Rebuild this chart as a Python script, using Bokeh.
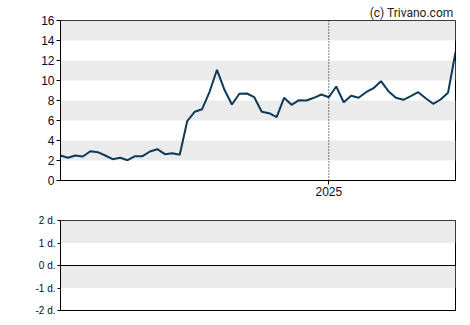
import datetime as dt
from bokeh.plotting import figure
from bokeh.models import Range1d, BoxAnnotation, Span, FixedTicker, DatetimeTickFormatter
from bokeh.layouts import column
from bokeh.embed import file_html
from bokeh.resources import INLINE

values = [2.5, 2.27, 2.5, 2.4, 2.93, 2.83, 2.5, 2.13, 2.27, 2.03, 2.43, 2.43, 2.9, 3.13,
          2.63, 2.73, 2.57, 5.93, 6.87, 7.13, 8.87, 11.07, 9.07, 7.6,
          8.67, 8.7, 8.33, 6.87, 6.73, 6.33, 8.27, 7.57, 8.03, 8.0, 8.27, 8.6, 8.33,
          9.4, 7.83, 8.47, 8.27, 8.83, 9.23, 9.93, 8.93, 8.27, 8.07, 8.43, 8.83,
          8.23, 7.67, 8.1, 8.77, 12.83]
start_date = dt.datetime(2024, 4, 24)
dates = [start_date + dt.timedelta(days=7 * i) for i in range(len(values))]
year_tick = dt.datetime(2025, 1, 1)
y_ticks = [0, 2, 4, 6, 8, 10, 12, 14, 16]
top_bands = [(2, 4), (6, 8), (10, 12), (14, 16)]
low_ticks = [-2, -1, 0, 1, 2]
low_labels = {-2: "-2 d.", -1: "-1 d.", 0: "0 d.", 1: "1 d.", 2: "2 d."}
low_bands = [(1, 2), (-1, 0)]

LINE = "#0e3a59"
BAND = "#ebebeb"
TXT = "#0a0a28"
FONT = "Liberation Sans"

xr = Range1d(dates[0], dates[-1])

p = figure(width=470, height=200, x_axis_type="datetime", x_range=xr,
           y_range=Range1d(0, 16), output_backend="svg", toolbar_location=None,
           min_border_left=60, min_border_right=15, min_border_top=20, min_border_bottom=20,
           title="(c) Trivano.com")
p.title.align = "right"
p.title.text_font = "Roboto"
p.title.text_font_size = "12px"
p.title.text_font_style = "normal"
p.title.text_color = "#222222"
p.title.standoff = 2
p.title.offset = 2
p.xgrid.visible = False
p.ygrid.visible = False
p.outline_line_color = "black"
p.outline_line_alpha = 1
p.outline_line_width = 1
for b, t in top_bands:
    p.add_layout(BoxAnnotation(bottom=b, top=t, fill_color=BAND, fill_alpha=1,
                               line_color=None, level="underlay"))
p.add_layout(Span(location=year_tick, dimension="height", line_color="black",
                  line_dash="1 2", line_width=1))
p.line(dates, values, line_color=LINE, line_width=2)

p.yaxis.ticker = FixedTicker(ticks=y_ticks)
p.yaxis.minor_tick_line_color = None
p.yaxis.major_tick_in = 0
p.yaxis.major_tick_out = 4
p.yaxis.major_label_standoff = 2
p.yaxis.major_label_text_font = FONT
p.yaxis.major_label_text_font_size = "12px"
p.yaxis.major_label_text_color = TXT
p.yaxis.axis_line_color = "black"

p.xaxis.ticker = FixedTicker(ticks=[year_tick.timestamp() * 1000])
p.xaxis.formatter = DatetimeTickFormatter(days="%Y", months="%Y", years="%Y")
p.xaxis.minor_tick_line_color = None
p.xaxis.major_tick_in = 0
p.xaxis.major_tick_out = 4
p.xaxis.major_label_standoff = 2
p.xaxis.major_label_text_font = FONT
p.xaxis.major_label_text_font_size = "12px"
p.xaxis.major_label_text_color = TXT
p.xaxis.axis_line_color = "black"

q = figure(width=470, height=125, x_axis_type="datetime", x_range=xr,
           y_range=Range1d(-2, 2), output_backend="svg", toolbar_location=None,
           min_border_left=60, min_border_right=15, min_border_top=20, min_border_bottom=15)
q.xgrid.visible = False
q.ygrid.visible = False
q.outline_line_color = "black"
q.outline_line_alpha = 1
for b, t in low_bands:
    q.add_layout(BoxAnnotation(bottom=b, top=t, fill_color=BAND, fill_alpha=1,
                               line_color=None, level="underlay"))
q.add_layout(Span(location=0, dimension="width", line_color="black", line_width=1))
q.yaxis.ticker = FixedTicker(ticks=low_ticks)
q.yaxis.major_label_overrides = low_labels
q.yaxis.minor_tick_line_color = None
q.yaxis.major_tick_in = 0
q.yaxis.major_tick_out = 3
q.yaxis.major_label_standoff = 2
q.yaxis.major_label_text_font = FONT
q.yaxis.major_label_text_font_size = "10px"
q.yaxis.major_label_text_color = TXT
q.yaxis.axis_line_color = "black"
q.xaxis.ticker = FixedTicker(ticks=[])
q.xaxis.major_label_text_font_size = "0px"
q.xaxis.major_tick_line_color = None
q.xaxis.minor_tick_line_color = None
q.xaxis.axis_line_color = "black"

layout = column(p, q, spacing=0)
open("out.html", "w").write(file_html(layout, INLINE))
